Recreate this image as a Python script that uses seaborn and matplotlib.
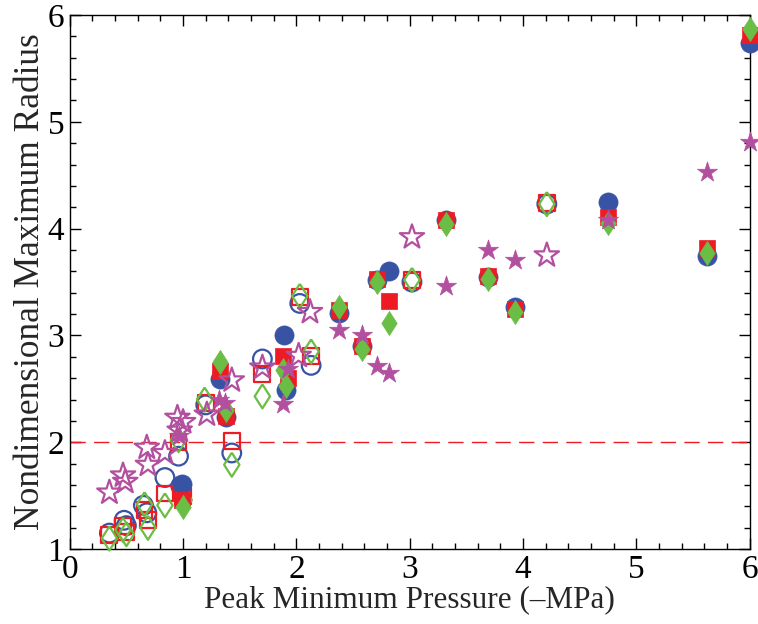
import numpy as np
import pandas as pd
import matplotlib
matplotlib.use("Agg")
import matplotlib.pyplot as plt
import seaborn as sns
from matplotlib.ticker import MultipleLocator

# filled markers
fc_x = [0.99, 1.33, 1.38, 1.89, 1.91, 2.38, 2.58, 2.71, 2.82, 3.32, 3.69, 3.93, 4.75, 5.62, 6.0]
fc_y = [1.61, 2.59, 2.24, 3.00, 2.49, 3.21, 2.90, 3.52, 3.60, 4.08, 3.55, 3.27, 4.25, 3.74, 5.74]
fs_x = [0.99, 1.33, 1.38, 1.88, 1.93, 2.38, 2.58, 2.71, 2.82, 3.32, 3.69, 3.93, 4.75, 5.62, 6.0]
fs_y = [1.46, 2.67, 2.25, 2.81, 2.60, 3.24, 2.90, 3.53, 3.32, 4.08, 3.56, 3.25, 4.11, 3.82, 5.81]
fd_x = [1.00, 1.33, 1.38, 1.88, 1.91, 2.38, 2.58, 2.71, 2.82, 3.32, 3.69, 3.93, 4.75, 5.62, 6.0]
fd_y = [1.39, 2.75, 2.30, 2.68, 2.53, 3.27, 2.87, 3.50, 3.12, 4.04, 3.53, 3.22, 4.05, 3.77, 5.87]

# open markers
oc_x = [0.35, 0.48, 0.50, 0.65, 0.68, 0.84, 0.98, 0.96, 1.20, 1.43, 1.70, 2.03, 2.13, 3.02, 4.21]
oc_y = [1.15, 1.27, 1.22, 1.41, 1.34, 1.67, 1.59, 1.87, 2.35, 1.90, 2.78, 3.30, 2.72, 3.50, 4.23]
os_x = [0.35, 0.47, 0.50, 0.66, 0.69, 0.84, 1.00, 0.96, 1.20, 1.43, 1.70, 2.03, 2.13, 3.02, 4.21]
os_y = [1.13, 1.22, 1.16, 1.37, 1.27, 1.52, 1.50, 2.00, 2.37, 2.01, 2.64, 3.36, 2.81, 3.52, 4.24]
od_x = [0.35, 0.47, 0.50, 0.66, 0.69, 0.84, 1.01, 0.96, 1.19, 1.43, 1.70, 2.03, 2.13, 3.02, 4.21]
od_y = [1.10, 1.18, 1.14, 1.42, 1.20, 1.41, 1.46, 2.02, 2.40, 1.79, 2.43, 3.37, 2.85, 3.52, 4.23]

# stars
fstar_x = [0.96, 1.32, 1.37, 1.88, 1.93, 2.38, 2.58, 2.71, 2.82, 3.32, 3.69, 3.93, 4.75, 5.62, 6.0]
fstar_y = [2.06, 2.40, 2.37, 2.36, 2.69, 3.05, 3.00, 2.71, 2.65, 3.46, 3.80, 3.71, 4.08, 4.53, 4.81]
ostar_x = [0.35, 0.47, 0.49, 0.68, 0.69, 0.84, 0.95, 1.00, 0.97, 1.21, 1.43, 1.70, 2.02, 2.12, 3.02, 4.21]
ostar_y = [1.53, 1.69, 1.63, 1.95, 1.79, 1.90, 2.23, 2.19, 2.11, 2.26, 2.58, 2.70, 2.81, 3.22, 3.92, 3.75]

blue = "#3953A4"
red = "#ED1C24"
green = "#6ABD45"
magenta = "#B24F9F"

sns.set_style("ticks")
plt.rcParams["font.family"] = ["Liberation Serif", "DejaVu Serif"]

fig = plt.figure(figsize=(7.58, 6.24), dpi=100)
ax = fig.add_axes([0.092, 0.12, 0.897, 0.856])

ax.axhline(2, color=red, lw=1, dashes=(11, 6), zorder=1)

diamond = [(0, 1), (0.64, 0), (0, -1), (-0.64, 0), (0, 1)]

# (x, y, marker, color, filled, size)
series = [
    (oc_x, oc_y, "o", blue, False, 180),
    (os_x, os_y, "s", red, False, 130),
    (od_x, od_y, diamond, green, False, 300),
    (fc_x, fc_y, "o", blue, True, 190),
    (fs_x, fs_y, "s", red, True, 130),
    (fd_x, fd_y, diamond, green, True, 300),
    (ostar_x, ostar_y, "*", magenta, False, 340),
    (fstar_x, fstar_y, "*", magenta, True, 230),
]

for i, (xs, ys, m, c, filled, s) in enumerate(series):
    df = pd.DataFrame({"x": xs, "y": ys})
    if filled:
        sns.scatterplot(data=df, x="x", y="y", ax=ax, marker=m, s=s, color=c,
                        edgecolor=c, linewidth=0.5, clip_on=False, zorder=3 + i)
    else:
        sns.scatterplot(data=df, x="x", y="y", ax=ax, marker=m, s=s,
                        facecolor="none", edgecolor=c, linewidth=1.6,
                        clip_on=False, zorder=3 + i)

ax.set_xlim(0, 6)
ax.set_ylim(1, 6)
ax.xaxis.set_major_locator(MultipleLocator(1))
ax.yaxis.set_major_locator(MultipleLocator(1))
ax.xaxis.set_minor_locator(MultipleLocator(0.2))
ax.yaxis.set_minor_locator(MultipleLocator(0.2))
ax.tick_params(which="both", direction="in", top=True, right=True, colors="black", labelsize=24)
ax.tick_params(which="major", length=8, width=1, pad=4)
ax.tick_params(which="minor", length=4, width=1)
for sp in ax.spines.values():
    sp.set_visible(True)
    sp.set_linewidth(1)
    sp.set_color("black")

ax.set_xlabel("Peak Minimum Pressure (\u2013MPa)", fontsize=22.5, labelpad=0)
ax.set_ylabel("Nondimensional Maximum Radius", fontsize=25.5, labelpad=0)

fig.savefig("out.png", dpi=100)
